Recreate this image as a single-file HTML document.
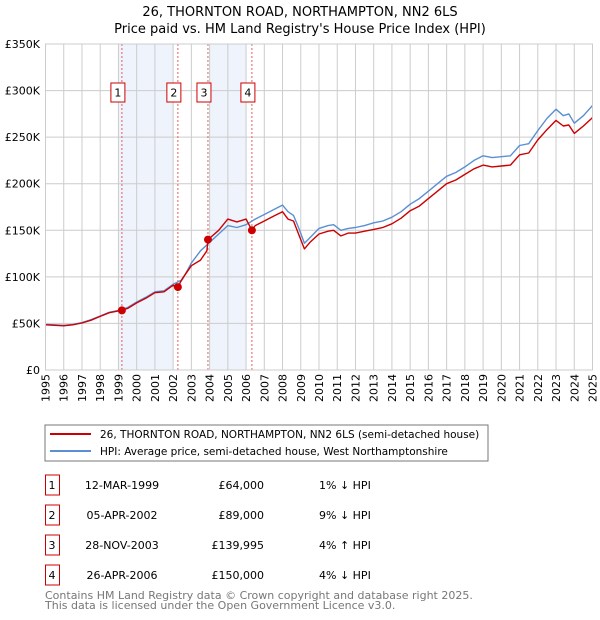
<!DOCTYPE html>
<html><head><meta charset="utf-8"><style>
body{margin:0;background:#fff}
svg{font-family:"DejaVu Sans","Liberation Sans",sans-serif;display:block}
</style></head><body>
<svg id="chart" width="600" height="620" viewBox="0 0 600 620">
<text x="300" y="16" text-anchor="middle" font-size="13">26, THORNTON ROAD, NORTHAMPTON, NN2 6LS</text>
<text x="300" y="33" text-anchor="middle" font-size="13">Price paid vs. HM Land Registry's House Price Index (HPI)</text>
<g id="plot"></g>
<rect x="45" y="425" width="443" height="36" fill="#fff" stroke="#777"/>
<line x1="50" y1="434" x2="91" y2="434" stroke="#cc0000" stroke-width="2"/>
<text x="100" y="438" font-size="10.5">26, THORNTON ROAD, NORTHAMPTON, NN2 6LS (semi-detached house)</text>
<line x1="50" y1="451" x2="91" y2="451" stroke="#5b8fd4" stroke-width="2"/>
<text x="100" y="455" font-size="10.5">HPI: Average price, semi-detached house, West Northamptonshire</text>
<g id="table" font-size="11"></g>
<text x="45" y="599" font-size="11" fill="#777">Contains HM Land Registry data © Crown copyright and database right 2025.</text>
<text x="45" y="609" font-size="11" fill="#777">This data is licensed under the Open Government Licence v3.0.</text>
</svg>
<script>
const hpiYears=[1995,1995.5,1996,1996.5,1997,1997.5,1998,1998.5,1999,1999.5,2000,2000.5,2001,2001.5,2002,2002.5,2003,2003.5,2004,2004.5,2005,2005.5,2006,2006.5,2007,2007.5,2008,2008.3,2008.6,2008.9,2009.2,2009.5,2010,2010.5,2010.8,2011.2,2011.6,2012,2012.5,2013,2013.5,2014,2014.5,2015,2015.5,2016,2016.5,2017,2017.5,2018,2018.5,2019,2019.5,2020,2020.5,2021,2021.5,2022,2022.5,2023,2023.4,2023.7,2024,2024.5,2025];
const hpiValues=[49,48.5,48,49,51,54,58,62,64,67,73,78,84,85,92,97,115,128,137,146,155,153,156,162,167,172,177,170,166,152,136,142,152,155,156,150,152,153,155,158,160,164,170,178,184,192,200,208,212,218,225,230,228,229,230,241,243,257,270,280,273,275,265,273,284];
const priceYears=[1995,1995.5,1996,1996.5,1997,1997.5,1998,1998.5,1999,1999.5,2000,2000.5,2001,2001.5,2002,2002.26,2002.5,2003,2003.5,2003.85,2003.91,2004.5,2005,2005.5,2006,2006.32,2006.5,2007,2007.5,2008,2008.3,2008.6,2008.9,2009.2,2009.5,2010,2010.5,2010.8,2011.2,2011.6,2012,2012.5,2013,2013.5,2014,2014.5,2015,2015.5,2016,2016.5,2017,2017.5,2018,2018.5,2019,2019.5,2020,2020.5,2021,2021.5,2022,2022.5,2023,2023.4,2023.7,2024,2024.5,2025];
const priceValues=[48.5,48,47.5,48.5,50.5,53.5,57.5,61.5,63.5,66,72,77,83,84,91,89,98,112,118,128,140,150,162,159,162,150,155,160,165,170,162,160,145,130,137,146,149,150,144,147,147,149,151,153,157,163,171,176,184,192,200,204,210,216,220,218,219,220,231,233,247,258,268,262,263,254,262,271];
const saleYears=[1999.19,2002.26,2003.91,2006.32];
const salePrices=[64000,89000,139995,150000];
const saleLabels=["1","2","3","4"];
const saleDates=["12-MAR-1999","05-APR-2002","28-NOV-2003","26-APR-2006"];
const saleHpi=["1% \u2193 HPI","9% \u2193 HPI","4% \u2191 HPI","4% \u2193 HPI"];
const yTicks=[0,50,100,150,200,250,300,350];
const yTickLabels=["£0","£50K","£100K","£150K","£200K","£250K","£300K","£350K"];
const shadeRanges=[[1999,2002],[2004,2006]];

const NS="http://www.w3.org/2000/svg";
const X0=45.5,X1=592.5,Y0=370,Y1=44;
const xs=y=>X0+(y-1995)/30*(X1-X0);
const ys=v=>Y0-v/350*(Y0-Y1);
const plot=document.getElementById('plot');
function mk(tag,attrs,parent){const e=document.createElementNS(NS,tag);for(const k in attrs)e.setAttribute(k,attrs[k]);(parent||plot).appendChild(e);return e;}
shadeRanges.forEach(r=>{
  const e=mk('rect',{x:xs(r[0]),y:Y1,width:xs(r[1])-xs(r[0]),height:Y0-Y1,fill:'#eef3fc'});
  
  
});
for(let yr=1995;yr<=2025;yr++){
  const g=mk('line',{x1:xs(yr),x2:xs(yr),y1:Y1,y2:Y0,stroke:'#cccccc','stroke-width':1});
  
  
  const t=mk('text',{transform:`translate(${xs(yr)+4},${Y0+4}) rotate(-90)`,'text-anchor':'end','font-size':11});
  t.textContent=String(yr);
  
  
}
yTicks.forEach((v,i)=>{
  const g=mk('line',{x1:X0,x2:X1,y1:ys(v),y2:ys(v),stroke:'#cccccc','stroke-width':1});
  
  
  const t=mk('text',{x:40,y:ys(v)+4,'text-anchor':'end','font-size':11});
  t.textContent=yTickLabels[i];
  
  
});
saleYears.forEach((yr,i)=>{
  const l=mk('line',{x1:xs(yr),x2:xs(yr),y1:Y1,y2:Y0,stroke:'#e06060','stroke-width':1,'stroke-dasharray':'2,2'});
  
  
});
function path(xa,va,color,name){
  const d=xa.map((x,i)=>(i?'L':'M')+xs(x).toFixed(1)+','+ys(va[i]).toFixed(1)).join('');
  const p=mk('path',{d,fill:'none',stroke:color,'stroke-width':1.4,'stroke-linejoin':'round'});
  
  
}
path(hpiYears,hpiValues,'#5b8fd4','hpi-line');
path(priceYears,priceValues,'#cc0000','price-paid-line');
saleYears.forEach((yr,i)=>{
  const c=mk('circle',{cx:xs(yr),cy:ys(salePrices[i]/1000),r:4,fill:'#cc0000'});
  
  
  const cx=xs(yr)-4;
  const r=mk('rect',{x:cx-7,y:83,width:14,height:19,fill:'#fff',stroke:'#cc0000'});
  
  
  const t=mk('text',{x:cx,y:96.5,'text-anchor':'middle','font-size':11});
  t.textContent=saleLabels[i];
  
  
});
mk('rect',{x:X0,y:Y1,width:X1-X0,height:Y0-Y1,fill:'none',stroke:'#cccccc'});
const tbl=document.getElementById('table');
const rowY=[485,515,545,575];
saleLabels.forEach((lab,i)=>{
  const y=rowY[i];
  const r=mk('rect',{x:45.5,y:y-10,width:14,height:20,fill:'#fff',stroke:'#cc0000'},tbl);
  
  
  const cells=[[52,'middle',lab,'table-row-number'],[122,'middle',saleDates[i],'table-date'],[264,'end','£'+salePrices[i].toLocaleString('en-GB'),'table-price'],[319,'start',saleHpi[i],'table-hpi-diff']];
  cells.forEach(c=>{
    const t=mk('text',{x:c[0],y:y+4,'text-anchor':c[1]},tbl);
    t.textContent=c[2];
    
    
  });
});
</script>
</body></html>
